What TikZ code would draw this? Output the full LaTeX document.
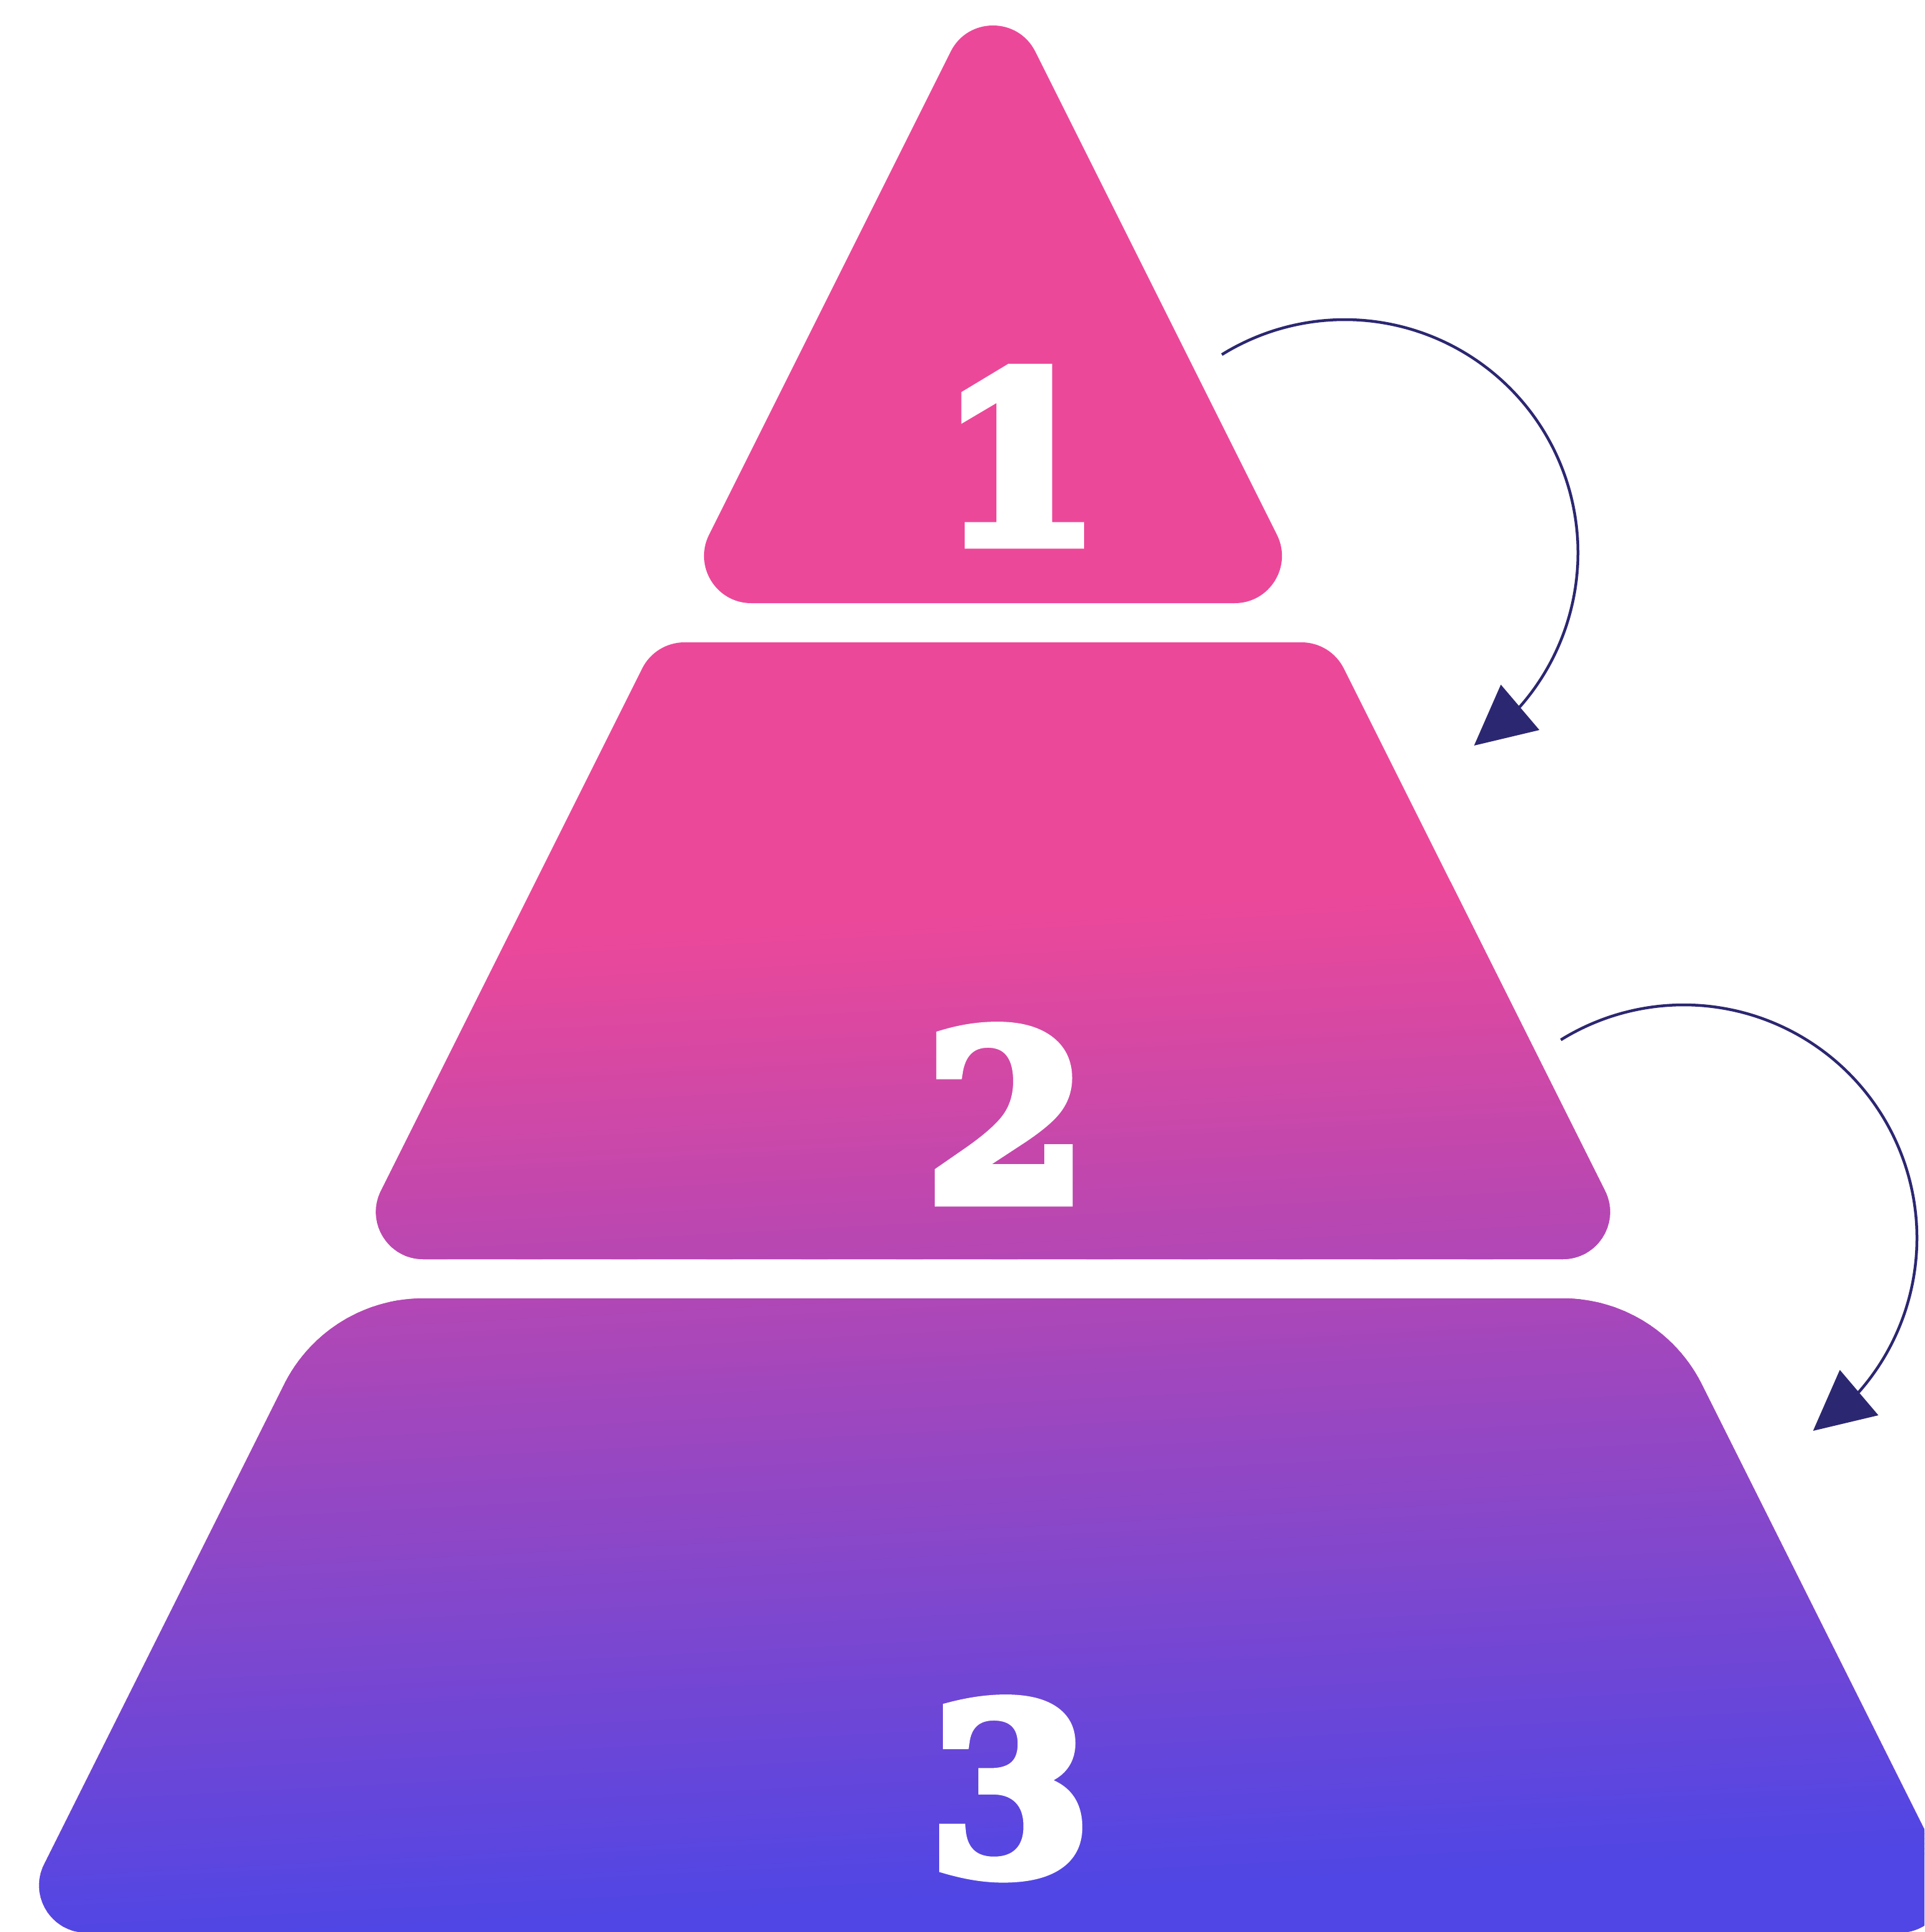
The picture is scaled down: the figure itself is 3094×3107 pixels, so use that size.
\documentclass[tikz,border=0pt]{standalone}
\usepackage{fontspec}
\newfontfamily\numfont{DejaVu Serif}[BoldFeatures={FakeBold=5.5}]
\definecolor{pk}{RGB}{236,72,153}
\definecolor{ind}{RGB}{79,70,229}
\definecolor{navy}{RGB}{44,39,113}
\tikzset{
  numst/.style={font=\numfont\bfseries\fontsize{106}{106}\selectfont, text=white, inner sep=0pt},
  arcst/.style={draw=navy, line width=0.045cm},
  headst/.style={fill=navy}
}
\def\shapeA{(1528.5,83) .. controls (1556.5,27) and (1636.5,27) .. (1664.5,83) -- (2053,860) .. controls (2078.3,910.5) and (2041.5,970) .. (1985,970) -- (1208,970) .. controls (1151.5,970) and (1114.7,910.5) .. (1140,860) -- cycle}
\def\shapeB{(1032.5,1075) .. controls (1045.4,1049.2) and (1071.7,1033) .. (1100.5,1033) -- (2092.5,1033) .. controls (2121.3,1033) and (2147.6,1049.2) .. (2160.5,1075) -- (2580.5,1915) .. controls (2605.8,1965.5) and (2569,2025) .. (2512.5,2025) -- (680.5,2025) .. controls (624,2025) and (587.2,1965.5) .. (612.5,1915) -- cycle}
\def\shapeC{(456.9,2226.2) .. controls (499.3,2141.5) and (585.8,2088) .. (680.5,2088) -- (2512.5,2088) .. controls (2607.2,2088) and (2693.7,2141.5) .. (2736.1,2226.2) -- (3122,2998) .. controls (3147.3,3048.5) and (3110.5,3108) .. (3054,3108) -- (139,3108) .. controls (82.5,3108) and (45.7,3048.5) .. (71,2998) -- cycle}
\begin{document}
\begin{tikzpicture}[x=0.01cm,y=-0.01cm]
\useasboundingbox (0,0) rectangle (3094,3107);
% pyramid with gradient
\begin{scope}
  \clip (0,0) rectangle (3094,3107);
  \clip \shapeA \shapeB \shapeC;
  \fill[pk] (0,0) rectangle (3094,3107);
  \begin{scope}[rotate around={3:(1547,2260)}]
    \foreach \i in {0,...,199}{
      \pgfmathsetmacro\p{\i/1.99}
      \pgfmathsetmacro\ya{1460+8*\i}
      \pgfmathsetmacro\yb{1470+8*\i}
      \fill[ind!\p!pk] (-1000,\ya) rectangle (4500,\yb);
    }
    \fill[ind] (-1000,3060) rectangle (4500,4500);
  \end{scope}
\end{scope}
% numbers
\node[numst, anchor=base] (n1) at (1640,872) {1};
\node[numst, anchor=base] (n2) at (1618,1930) {2};
\node[numst, anchor=base] (n3) at (1624,3012) {3};
% arrows
\coordinate (c1) at (2162,889);
\coordinate (c2) at (2707,1991);
\draw[arcst] plot[domain=121.8:-42, samples=90, smooth] ({2162+375*cos(\x)},{889-375*sin(\x)});
\fill[headst] (2370,1199) coordinate (t1) -- (2413,1101) -- (2475,1174) -- cycle;
\draw[arcst] plot[domain=121.8:-42, samples=90, smooth] ({2707+375*cos(\x)},{1991-375*sin(\x)});
\fill[headst] (2915,2301) coordinate (t2) -- (2958,2203) -- (3020,2276) -- cycle;
\end{tikzpicture}
\end{document}
